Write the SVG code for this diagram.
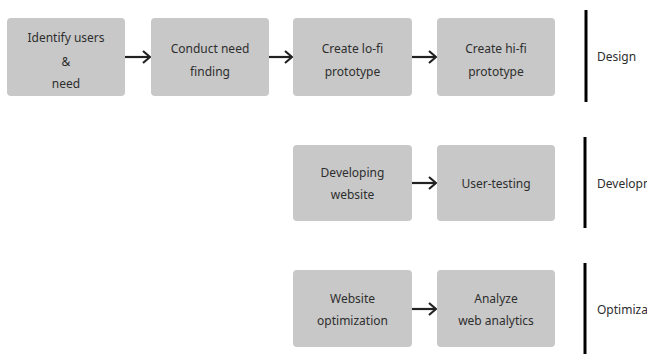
<svg xmlns="http://www.w3.org/2000/svg" width="647" height="354" viewBox="0 0 647 354">
<defs>
<style>
.box{fill:#c8c8c8;}
.t{font-family:"Noto Sans","Open Sans",sans-serif;font-size:12px;fill:#2e2e2e;text-anchor:middle;dominant-baseline:central;}
.lbl{font-family:"Noto Sans","Open Sans",sans-serif;font-size:12px;fill:#2e2e2e;dominant-baseline:central;}
.c{stroke:#222;stroke-width:2.2;fill:none;}
.bar{stroke:#000;stroke-width:3;}
</style>
<marker id="ah" viewBox="0 0 10 14" refX="9" refY="7" markerWidth="10" markerHeight="14" markerUnits="userSpaceOnUse" orient="auto">
<path d="M2,1 L9,7 L2,13" fill="none" stroke="#222" stroke-width="2.2"/>
</marker>
</defs>
<rect width="647" height="354" fill="#fff"/>
<g id="connectors">
<line class="c" x1="125" y1="57" x2="150" y2="57" marker-end="url(#ah)"/>
<line class="c" x1="269" y1="57" x2="292" y2="57" marker-end="url(#ah)"/>
<line class="c" x1="412" y1="57" x2="436" y2="57" marker-end="url(#ah)"/>
<line class="c" x1="412" y1="183" x2="436" y2="183" marker-end="url(#ah)"/>
<line class="c" x1="412" y1="309" x2="436" y2="309" marker-end="url(#ah)"/>
</g>
<g id="n1"><rect class="box" x="7" y="18" width="118" height="78" rx="4"/>
<text class="t" x="66" y="37">Identify users</text><text class="t" x="66" y="61">&amp;</text><text class="t" x="66" y="83">need</text></g>
<g id="n2"><rect class="box" x="151" y="18" width="118" height="78" rx="4"/>
<text class="t" x="210" y="48">Conduct need</text><text class="t" x="210" y="71">finding</text></g>
<g id="n3"><rect class="box" x="293" y="18" width="119" height="78" rx="4"/>
<text class="t" x="352.5" y="48">Create lo-fi</text><text class="t" x="352.5" y="71">prototype</text></g>
<g id="n4"><rect class="box" x="437" y="18" width="118" height="78" rx="4"/>
<text class="t" x="496" y="48">Create hi-fi</text><text class="t" x="496" y="71">prototype</text></g>
<g id="n5"><rect class="box" x="293" y="145" width="119" height="76" rx="4"/>
<text class="t" x="352.5" y="172">Developing</text><text class="t" x="352.5" y="194">website</text></g>
<g id="n6"><rect class="box" x="437" y="145" width="118" height="76" rx="4"/>
<text class="t" x="496" y="183">User-testing</text></g>
<g id="n7"><rect class="box" x="293" y="270" width="119" height="77" rx="4"/>
<text class="t" x="352.5" y="298">Website</text><text class="t" x="352.5" y="320">optimization</text></g>
<g id="n8"><rect class="box" x="437" y="270" width="118" height="77" rx="4"/>
<text class="t" x="496" y="298">Analyze</text><text class="t" x="496" y="320">web analytics</text></g>
<g id="phase-design"><line class="bar" x1="586" y1="10" x2="586" y2="102"/><text class="lbl" x="597" y="56">Design</text></g>
<g id="phase-dev"><line class="bar" x1="585" y1="137" x2="585" y2="228"/><text class="lbl" x="597" y="183">Development</text></g>
<g id="phase-opt"><line class="bar" x1="585" y1="263" x2="585" y2="354"/><text class="lbl" x="597" y="309">Optimization</text></g>
</svg>
